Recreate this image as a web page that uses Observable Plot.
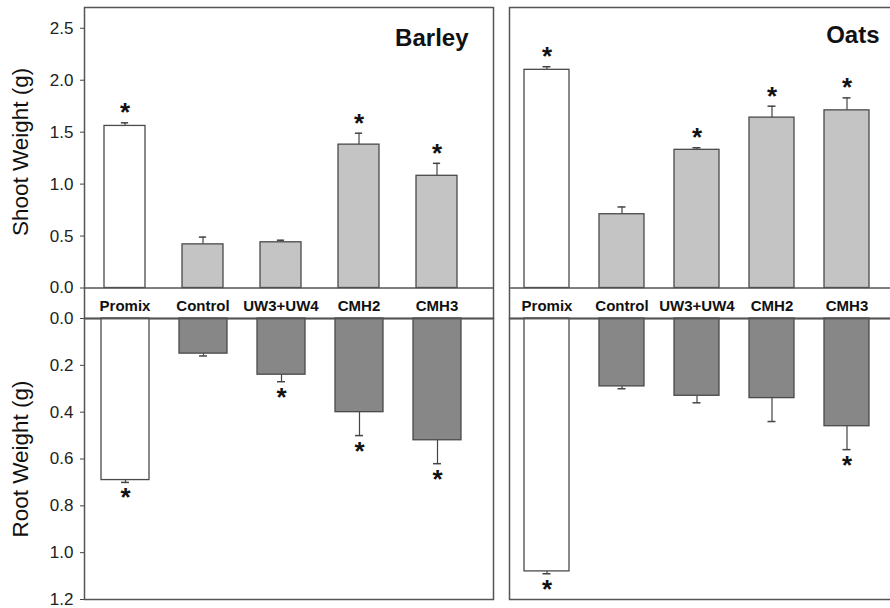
<!DOCTYPE html>
<html>
<head>
<meta charset="utf-8">
<script src="https://cdn.jsdelivr.net/npm/d3@7"></script>
<script src="https://cdn.jsdelivr.net/npm/@observablehq/plot@0.6"></script>
<style>
  html, body { margin: 0; padding: 0; background: white; }
  #chart { position: relative; width: 890px; height: 608px; overflow: hidden; background: white; }
  #chart svg { position: absolute; left: 0; top: 0; }
</style>
</head>
<body>
<div id="chart"></div>
<script>
// ---- data ----
const categories = ["Promix", "Control", "UW3+UW4", "CMH2", "CMH3"];

const barleyShoot    = [1.56, 0.42, 0.44, 1.38, 1.08];
const barleyShootErr = [0.03, 0.07, 0.02, 0.11, 0.12];
const barleyShootSig = [true, false, false, true, true];

const barleyRoot     = [0.69, 0.15, 0.24, 0.40, 0.52];
const barleyRootErr  = [0.01, 0.01, 0.03, 0.10, 0.10];
const barleyRootSig  = [true, false, true, true, true];

const oatsShoot      = [2.10, 0.71, 1.33, 1.64, 1.71];
const oatsShootErr   = [0.03, 0.07, 0.02, 0.11, 0.12];
const oatsShootSig   = [true, false, true, true, true];

const oatsRoot       = [1.08, 0.29, 0.33, 0.34, 0.46];
const oatsRootErr    = [0.01, 0.01, 0.03, 0.10, 0.10];
const oatsRootSig    = [true, false, false, false, true];

const shootTicks = [0, 0.5, 1.0, 1.5, 2.0, 2.5];
const rootTicks  = [0, 0.2, 0.4, 0.6, 0.8, 1.0, 1.2];

const panelTitles = ["Barley", "Oats"];
const axisTitles  = ["Shoot Weight (g)", "Root Weight (g)"];

// ---- helpers ----
const FONT = "'Liberation Sans', Arial, Helvetica, sans-serif";
const rows = (vals, errs, sig) => categories.map((c, i) => ({cat: c, v: vals[i], e: errs[i], top: vals[i] + errs[i], sig: sig[i]}));
const fmt = d3.format(".1f");

function makePart({vals, errs, sig, part, left, right, width, xRange, padIn, title, showAxis}) {
  const data = rows(vals, errs, sig);
  const isShoot = part === "shoot";
  const gray = isShoot ? "#c4c4c4" : "#878787";
  const step = (xRange[1] - xRange[0]) / categories.length;
  const bw = step * (1 - padIn);
  const capInset = (bw - 8) / 2;
  const marks = [];
  if (showAxis) {
    marks.push(Plot.axisY({
      ticks: isShoot ? shootTicks : rootTicks, tickFormat: fmt, tickSize: 4, tickPadding: 7,
      fontSize: 17, fill: "#222", stroke: "#444", label: null, anchor: "left"
    }));
    marks.push(Plot.text([axisTitles[isShoot ? 0 : 1]], {
      frameAnchor: "left", y: [isShoot ? 1.31 : 0.6], text: d => d, rotate: -90,
      dx: -64, fontSize: 22.5, fill: "#111", textAnchor: "middle", lineAnchor: "middle"
    }));
  }
  marks.push(
    Plot.ruleX(data, {x: "cat", y1: "v", y2: "top", stroke: "#444", strokeWidth: 1.2}),
    Plot.tickY(data, {x: "cat", y: "top", stroke: "#444", strokeWidth: 1.5,
      insetLeft: capInset, insetRight: capInset}),
    Plot.barY(data, {x: "cat", y: "v", fill: d => d.cat === "Promix" ? "white" : gray,
      stroke: "#4a4a4a", strokeWidth: 1.3}),
    Plot.text(data.filter(d => d.sig), {x: "cat", y: "top", text: () => "*", fontSize: 26,
      fontWeight: "bold", fill: "#111", lineAnchor: "bottom", dy: isShoot ? -1.5 : 24}),
    Plot.ruleY([0], {stroke: "#555", strokeWidth: 1.5}),
    Plot.frame({stroke: "#555", strokeWidth: 1.5})
  );
  if (isShoot) {
    marks.push(Plot.text(categories, {x: d => d, frameAnchor: "bottom", text: d => d,
      dy: -7.5, lineAnchor: "bottom", fontSize: 15, fontWeight: "bold", fill: "#111"}));
    marks.push(Plot.text([title], {frameAnchor: "top-right", text: d => d, fontSize: 24,
      fontWeight: "bold", fill: "#111", lineAnchor: "bottom", textAnchor: "end",
      dx: title === "Barley" ? -25 : -15, dy: title === "Barley" ? 38 : 35}));
  }
  return Plot.plot({
    width, height: 608,
    marginLeft: left, marginRight: width - right,
    marginTop: isShoot ? 7 : 318, marginBottom: isShoot ? 608 - 318 : 9,
    x: {type: "band", domain: categories, range: xRange, paddingInner: padIn, paddingOuter: padIn / 2, axis: null},
    y: isShoot ? {domain: [0, 2.7], range: [287.5, 7], axis: null}
               : {domain: [0, 1.2], reverse: true, axis: null},
    style: {background: "transparent", fontFamily: FONT, fontSize: "17px", maxWidth: "none"},
    marks
  });
}

const chart = document.getElementById("chart");
const parts = [
  makePart({vals: barleyShoot, errs: barleyShootErr, sig: barleyShootSig, part: "shoot",
    left: 84, right: 493, width: 890, xRange: [84, 478], padIn: 0.47, title: panelTitles[0], showAxis: true}),
  makePart({vals: barleyRoot, errs: barleyRootErr, sig: barleyRootSig, part: "root",
    left: 84, right: 493, width: 890, xRange: [84, 478], padIn: 0.39, title: panelTitles[0], showAxis: true}),
  makePart({vals: oatsShoot, errs: oatsShootErr, sig: oatsShootSig, part: "shoot",
    left: 509, right: 894, width: 894, xRange: [509.2, 884.3], padIn: 0.4, title: panelTitles[1], showAxis: false}),
  makePart({vals: oatsRoot, errs: oatsRootErr, sig: oatsRootSig, part: "root",
    left: 509, right: 894, width: 894, xRange: [509.2, 884.3], padIn: 0.4, title: panelTitles[1], showAxis: false})
];
parts.forEach(p => chart.appendChild(p));
</script>
</body>
</html>
